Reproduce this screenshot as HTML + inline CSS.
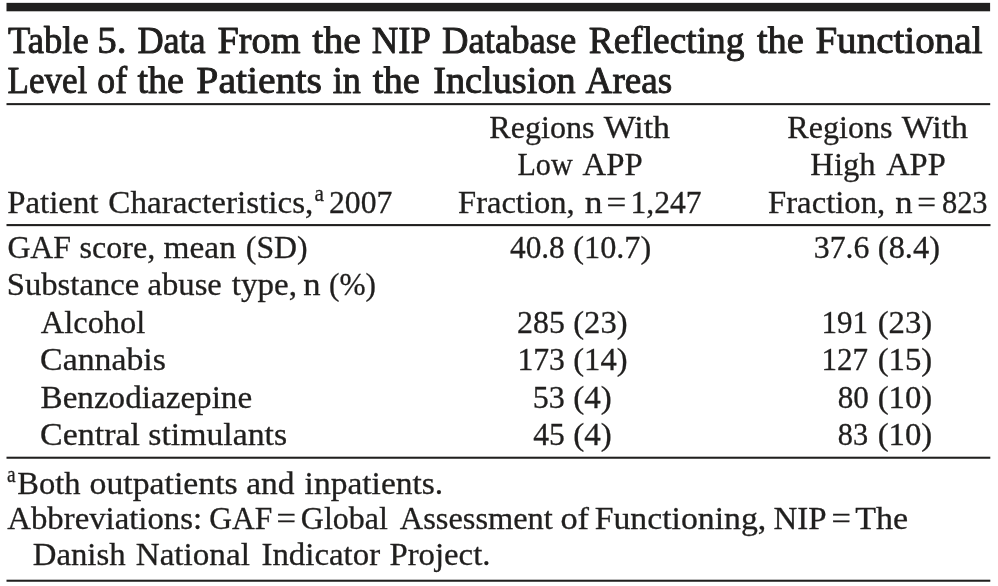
<!DOCTYPE html>
<html lang="en"><head><meta charset="utf-8"><title>Table 5</title>
<style>
html,body{margin:0;padding:0;background:#fff;}
body{width:998px;height:586px;overflow:hidden;}
svg{display:block;}
text{font-family:"Liberation Serif",serif;fill:#201f1e;}
.t{font-size:38.9px;stroke:#201f1e;stroke-width:0.95px;stroke-linejoin:round;}
.b{font-size:32.5px;stroke:#201f1e;stroke-width:0.3px;}
.s{font-size:22.5px;stroke:#201f1e;stroke-width:0.3px;}
</style></head><body>
<svg width="998" height="586" viewBox="0 0 998 586">
<rect x="6.50" y="2.85" width="983.60" height="8.45" fill="#201f1e"/>
<rect x="6.50" y="103.10" width="983.70" height="2.05" fill="#201f1e"/>
<rect x="6.50" y="224.05" width="984.00" height="2.10" fill="#201f1e"/>
<rect x="6.50" y="456.70" width="983.80" height="2.05" fill="#201f1e"/>
<rect x="6.50" y="579.70" width="983.80" height="2.05" fill="#201f1e"/>
<text class="t" x="8.04" y="53.20" textLength="80.64" lengthAdjust="spacingAndGlyphs">Table</text>
<text class="t" x="97.33" y="53.20" textLength="29.22" lengthAdjust="spacingAndGlyphs">5.</text>
<text class="t" x="137.38" y="53.20" textLength="68.31" lengthAdjust="spacingAndGlyphs">Data</text>
<text class="t" x="217.52" y="53.20" textLength="83.06" lengthAdjust="spacingAndGlyphs">From</text>
<text class="t" x="312.38" y="53.20" textLength="48.51" lengthAdjust="spacingAndGlyphs">the</text>
<text class="t" x="371.76" y="53.20" textLength="59.19" lengthAdjust="spacingAndGlyphs">NIP</text>
<text class="t" x="442.07" y="53.20" textLength="134.23" lengthAdjust="spacingAndGlyphs">Database</text>
<text class="t" x="588.75" y="53.20" textLength="155.63" lengthAdjust="spacingAndGlyphs">Reflecting</text>
<text class="t" x="756.89" y="53.20" textLength="46.95" lengthAdjust="spacingAndGlyphs">the</text>
<text class="t" x="815.40" y="53.20" textLength="167.10" lengthAdjust="spacingAndGlyphs">Functional</text>
<text class="t" x="7.51" y="92.50" textLength="79.77" lengthAdjust="spacingAndGlyphs">Level</text>
<text class="t" x="97.34" y="92.50" textLength="29.71" lengthAdjust="spacingAndGlyphs">of</text>
<text class="t" x="137.39" y="92.50" textLength="46.64" lengthAdjust="spacingAndGlyphs">the</text>
<text class="t" x="196.38" y="92.50" textLength="125.59" lengthAdjust="spacingAndGlyphs">Patients</text>
<text class="t" x="332.75" y="92.50" textLength="28.13" lengthAdjust="spacingAndGlyphs">in</text>
<text class="t" x="372.69" y="92.50" textLength="47.16" lengthAdjust="spacingAndGlyphs">the</text>
<text class="t" x="433.24" y="92.50" textLength="142.44" lengthAdjust="spacingAndGlyphs">Inclusion</text>
<text class="t" x="585.60" y="92.50" textLength="86.50" lengthAdjust="spacingAndGlyphs">Areas</text>
<text class="b" x="489.37" y="137.90" textLength="105.20" lengthAdjust="spacingAndGlyphs">Regions</text>
<text class="b" x="603.75" y="137.90" textLength="66.21" lengthAdjust="spacingAndGlyphs">With</text>
<text class="b" x="517.42" y="175.40" textLength="55.30" lengthAdjust="spacingAndGlyphs">Low</text>
<text class="b" x="582.62" y="175.40" textLength="60.12" lengthAdjust="spacingAndGlyphs">APP</text>
<text class="b" x="458.06" y="212.80" textLength="116.53" lengthAdjust="spacingAndGlyphs">Fraction,</text>
<text class="b" x="584.65" y="212.80" textLength="17.73" lengthAdjust="spacingAndGlyphs">n</text>
<text class="b" x="606.60" y="212.80" textLength="19.77" lengthAdjust="spacingAndGlyphs">=</text>
<text class="b" x="630.49" y="212.80" textLength="71.03" lengthAdjust="spacingAndGlyphs">1,247</text>
<text class="b" x="787.37" y="137.90" textLength="105.20" lengthAdjust="spacingAndGlyphs">Regions</text>
<text class="b" x="901.75" y="137.90" textLength="66.21" lengthAdjust="spacingAndGlyphs">With</text>
<text class="b" x="810.35" y="175.40" textLength="65.21" lengthAdjust="spacingAndGlyphs">High</text>
<text class="b" x="886.13" y="175.40" textLength="59.61" lengthAdjust="spacingAndGlyphs">APP</text>
<text class="b" x="768.05" y="212.80" textLength="117.15" lengthAdjust="spacingAndGlyphs">Fraction,</text>
<text class="b" x="895.17" y="212.80" textLength="17.30" lengthAdjust="spacingAndGlyphs">n</text>
<text class="b" x="917.28" y="212.80" textLength="18.80" lengthAdjust="spacingAndGlyphs">=</text>
<text class="b" x="941.91" y="212.80" textLength="45.66" lengthAdjust="spacingAndGlyphs">823</text>
<text class="b" x="7.25" y="212.80" textLength="91.17" lengthAdjust="spacingAndGlyphs">Patient</text>
<text class="b" x="108.33" y="212.80" textLength="204.98" lengthAdjust="spacingAndGlyphs">Characteristics,</text>
<text class="b" x="329.00" y="212.80" textLength="63.32" lengthAdjust="spacingAndGlyphs">2007</text>
<text class="b" x="7.38" y="257.70" textLength="63.71" lengthAdjust="spacingAndGlyphs">GAF</text>
<text class="b" x="79.57" y="257.70" textLength="75.58" lengthAdjust="spacingAndGlyphs">score,</text>
<text class="b" x="163.58" y="257.70" textLength="72.29" lengthAdjust="spacingAndGlyphs">mean</text>
<text class="b" x="245.80" y="257.70" textLength="61.78" lengthAdjust="spacingAndGlyphs">(SD)</text>
<text class="b" x="6.74" y="295.20" textLength="132.54" lengthAdjust="spacingAndGlyphs">Substance</text>
<text class="b" x="147.51" y="295.20" textLength="74.37" lengthAdjust="spacingAndGlyphs">abuse</text>
<text class="b" x="231.82" y="295.20" textLength="65.27" lengthAdjust="spacingAndGlyphs">type,</text>
<text class="b" x="303.27" y="295.20" textLength="17.30" lengthAdjust="spacingAndGlyphs">n</text>
<text class="b" x="329.02" y="295.20" textLength="47.01" lengthAdjust="spacingAndGlyphs">(%)</text>
<text class="b" x="40.83" y="332.70" textLength="104.45" lengthAdjust="spacingAndGlyphs">Alcohol</text>
<text class="b" x="40.10" y="370.10" textLength="125.79" lengthAdjust="spacingAndGlyphs">Cannabis</text>
<text class="b" x="40.54" y="407.60" textLength="211.62" lengthAdjust="spacingAndGlyphs">Benzodiazepine</text>
<text class="b" x="40.09" y="445.10" textLength="99.97" lengthAdjust="spacingAndGlyphs">Central</text>
<text class="b" x="148.30" y="445.10" textLength="138.78" lengthAdjust="spacingAndGlyphs">stimulants</text>
<text class="b" x="510.02" y="257.70" textLength="54.75" lengthAdjust="spacingAndGlyphs">40.8</text>
<text class="b" x="573.28" y="257.70" textLength="77.98" lengthAdjust="spacingAndGlyphs">(10.7)</text>
<text class="b" x="517.04" y="332.70" textLength="47.83" lengthAdjust="spacingAndGlyphs">285</text>
<text class="b" x="573.27" y="332.70" textLength="54.25" lengthAdjust="spacingAndGlyphs">(23)</text>
<text class="b" x="517.38" y="370.10" textLength="47.49" lengthAdjust="spacingAndGlyphs">173</text>
<text class="b" x="573.27" y="370.10" textLength="54.25" lengthAdjust="spacingAndGlyphs">(14)</text>
<text class="b" x="532.81" y="407.60" textLength="32.08" lengthAdjust="spacingAndGlyphs">53</text>
<text class="b" x="573.25" y="407.60" textLength="38.54" lengthAdjust="spacingAndGlyphs">(4)</text>
<text class="b" x="533.27" y="445.10" textLength="31.60" lengthAdjust="spacingAndGlyphs">45</text>
<text class="b" x="573.25" y="445.10" textLength="38.54" lengthAdjust="spacingAndGlyphs">(4)</text>
<text class="b" x="813.74" y="257.70" textLength="55.67" lengthAdjust="spacingAndGlyphs">37.6</text>
<text class="b" x="877.87" y="257.70" textLength="62.09" lengthAdjust="spacingAndGlyphs">(8.4)</text>
<text class="b" x="821.43" y="332.70" textLength="46.58" lengthAdjust="spacingAndGlyphs">191</text>
<text class="b" x="877.66" y="332.70" textLength="54.62" lengthAdjust="spacingAndGlyphs">(23)</text>
<text class="b" x="821.44" y="370.10" textLength="46.46" lengthAdjust="spacingAndGlyphs">127</text>
<text class="b" x="877.66" y="370.10" textLength="54.62" lengthAdjust="spacingAndGlyphs">(15)</text>
<text class="b" x="837.78" y="407.60" textLength="31.14" lengthAdjust="spacingAndGlyphs">80</text>
<text class="b" x="877.66" y="407.60" textLength="54.62" lengthAdjust="spacingAndGlyphs">(10)</text>
<text class="b" x="837.81" y="445.10" textLength="30.35" lengthAdjust="spacingAndGlyphs">83</text>
<text class="b" x="877.66" y="445.10" textLength="54.62" lengthAdjust="spacingAndGlyphs">(10)</text>
<text class="b" x="17.26" y="494.10" textLength="63.19" lengthAdjust="spacingAndGlyphs">Both</text>
<text class="b" x="89.58" y="494.10" textLength="148.18" lengthAdjust="spacingAndGlyphs">outpatients</text>
<text class="b" x="246.18" y="494.10" textLength="48.25" lengthAdjust="spacingAndGlyphs">and</text>
<text class="b" x="304.58" y="494.10" textLength="138.68" lengthAdjust="spacingAndGlyphs">inpatients.</text>
<text class="b" x="7.32" y="529.20" textLength="194.78" lengthAdjust="spacingAndGlyphs">Abbreviations:</text>
<text class="b" x="209.19" y="529.20" textLength="62.98" lengthAdjust="spacingAndGlyphs">GAF</text>
<text class="b" x="276.62" y="529.20" textLength="19.53" lengthAdjust="spacingAndGlyphs">=</text>
<text class="b" x="300.87" y="529.20" textLength="86.99" lengthAdjust="spacingAndGlyphs">Global</text>
<text class="b" x="399.83" y="529.20" textLength="152.98" lengthAdjust="spacingAndGlyphs">Assessment</text>
<text class="b" x="560.46" y="529.20" textLength="28.61" lengthAdjust="spacingAndGlyphs">of</text>
<text class="b" x="594.72" y="529.20" textLength="171.47" lengthAdjust="spacingAndGlyphs">Functioning,</text>
<text class="b" x="773.44" y="529.20" textLength="53.09" lengthAdjust="spacingAndGlyphs">NIP</text>
<text class="b" x="831.63" y="529.20" textLength="19.41" lengthAdjust="spacingAndGlyphs">=</text>
<text class="b" x="855.25" y="529.20" textLength="52.88" lengthAdjust="spacingAndGlyphs">The</text>
<text class="b" x="32.75" y="564.80" textLength="92.83" lengthAdjust="spacingAndGlyphs">Danish</text>
<text class="b" x="135.74" y="564.80" textLength="114.11" lengthAdjust="spacingAndGlyphs">National</text>
<text class="b" x="261.50" y="564.80" textLength="118.58" lengthAdjust="spacingAndGlyphs">Indicator</text>
<text class="b" x="389.45" y="564.80" textLength="101.04" lengthAdjust="spacingAndGlyphs">Project.</text>
<text class="s" x="314.41" y="201.00" textLength="9.44" lengthAdjust="spacingAndGlyphs">a</text>
<text class="s" x="6.97" y="481.80" textLength="8.65" lengthAdjust="spacingAndGlyphs">a</text>
</svg>
</body></html>
